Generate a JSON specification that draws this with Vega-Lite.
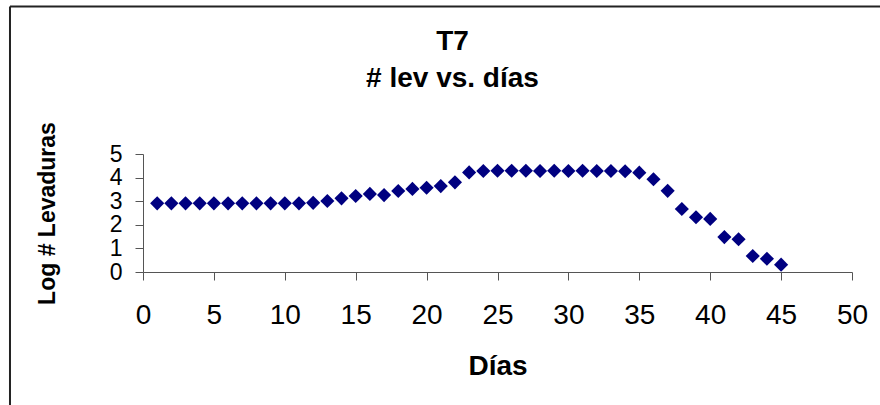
{
  "$schema": "https://vega.github.io/schema/vega-lite/v6.json",
  "autosize": "none",
  "width": 709,
  "height": 118,
  "padding": {"left": 143, "top": 154, "right": 28, "bottom": 133},
  "background": "white",
  "config": {
    "view": {"stroke": null},
    "font": "Liberation Sans"
  },
  "title": {
    "text": ["T7", "# lev vs. días"],
    "frame": "group",
    "anchor": "middle",
    "dx": -45,
    "dy": 87,
    "offset": 0,
    "fontSize": 28,
    "fontWeight": "bold",
    "font": "Liberation Sans",
    "color": "black",
    "lineHeight": 37
  },
  "datasets": {
    "frame": [{"x1": -9.38, "x2": 52.33, "y1": 11.25, "y2": -5.85}]
  },
  "layer": [
    {
      "data": {
        "values": [
          {"dia": 1, "log": 2.91}, {"dia": 2, "log": 2.91}, {"dia": 3, "log": 2.91},
          {"dia": 4, "log": 2.91}, {"dia": 5, "log": 2.91}, {"dia": 6, "log": 2.91},
          {"dia": 7, "log": 2.91}, {"dia": 8, "log": 2.91}, {"dia": 9, "log": 2.91},
          {"dia": 10, "log": 2.91}, {"dia": 11, "log": 2.91}, {"dia": 12, "log": 2.93},
          {"dia": 13, "log": 3.01}, {"dia": 14, "log": 3.12}, {"dia": 15, "log": 3.22},
          {"dia": 16, "log": 3.31}, {"dia": 17, "log": 3.26}, {"dia": 18, "log": 3.43},
          {"dia": 19, "log": 3.52}, {"dia": 20, "log": 3.57}, {"dia": 21, "log": 3.64},
          {"dia": 22, "log": 3.8}, {"dia": 23, "log": 4.22}, {"dia": 24, "log": 4.28},
          {"dia": 25, "log": 4.29}, {"dia": 26, "log": 4.29}, {"dia": 27, "log": 4.29},
          {"dia": 28, "log": 4.28}, {"dia": 29, "log": 4.29}, {"dia": 30, "log": 4.28},
          {"dia": 31, "log": 4.29}, {"dia": 32, "log": 4.28}, {"dia": 33, "log": 4.28},
          {"dia": 34, "log": 4.27}, {"dia": 35, "log": 4.21}, {"dia": 36, "log": 3.93},
          {"dia": 37, "log": 3.44}, {"dia": 38, "log": 2.67}, {"dia": 39, "log": 2.32},
          {"dia": 40, "log": 2.25}, {"dia": 41, "log": 1.48}, {"dia": 42, "log": 1.39},
          {"dia": 43, "log": 0.68}, {"dia": 44, "log": 0.56}, {"dia": 45, "log": 0.31}
        ]
      },
      "mark": {"type": "point", "shape": "diamond", "filled": true, "size": 200, "color": "#000080", "opacity": 1},
      "encoding": {
        "x": {
          "field": "dia", "type": "quantitative",
          "scale": {"domain": [0, 50], "nice": false},
          "axis": {
            "title": "Días", "values": [0,5,10,15,20,25,30,35,40,45,50],
            "grid": false, "domainColor": "#555555", "tickColor": "#555555",
            "tickSize": 8, "labelPadding": 21, "labelFontSize": 28, "labelColor": "black",
            "labelFont": "Liberation Sans", "labelFlush": false, "labelOverlap": false,
            "titleFontSize": 28, "titleFontWeight": "bold", "titleColor": "black",
            "titleFont": "Liberation Sans", "titlePadding": 23
          }
        },
        "y": {
          "field": "log", "type": "quantitative",
          "scale": {"domain": [0, 5], "nice": false},
          "axis": {
            "title": "Log # Levaduras", "values": [0,1,2,3,4,5], "tickCount": 6,
            "grid": false, "domainColor": "#555555", "tickColor": "#555555",
            "tickSize": 8, "labelPadding": 13, "labelFontSize": 23, "labelColor": "black",
            "labelFont": "Liberation Sans", "labelFlush": false, "labelOverlap": false,
            "titleFontSize": 23, "titleFontWeight": "bold", "titleColor": "black",
            "titleFont": "Liberation Sans", "titlePadding": 50
          }
        }
      }
    },
    {
      "data": {"name": "frame"},
      "mark": {"type": "rule", "stroke": "#222222", "strokeWidth": 2, "clip": false},
      "encoding": {
        "x": {"field": "x1", "type": "quantitative"},
        "x2": {"field": "x2"},
        "y": {"field": "y1", "type": "quantitative"}
      }
    },
    {
      "data": {"name": "frame"},
      "mark": {"type": "rule", "stroke": "#222222", "strokeWidth": 2, "clip": false},
      "encoding": {
        "x": {"field": "x1", "type": "quantitative"},
        "y": {"field": "y1", "type": "quantitative"},
        "y2": {"field": "y2"}
      }
    }
  ]
}
